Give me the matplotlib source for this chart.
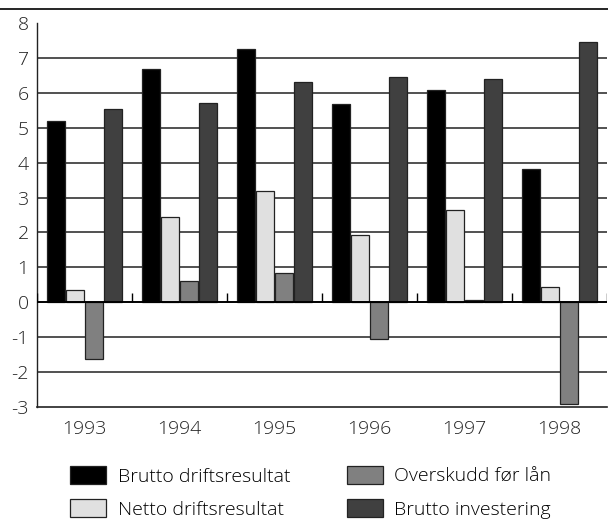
import numpy as np
import matplotlib
matplotlib.use("Agg")
import matplotlib.pyplot as plt
from matplotlib.lines import Line2D

plt.rcParams['font.family'] = ['Open Sans', 'DejaVu Sans']
plt.rcParams['font.weight'] = 'light'

# Data
years = ["1993", "1994", "1995", "1996", "1997", "1998"]
brutto_drift = [5.19, 6.69, 7.26, 5.68, 6.09, 3.81]
netto_drift = [0.36, 2.43, 3.18, 1.92, 2.65, 0.43]
overskudd = [-1.63, 0.61, 0.85, -1.06, 0.06, -2.92]
brutto_inv = [5.55, 5.70, 6.30, 6.44, 6.39, 7.46]

series = [
    ("Brutto driftsresultat", brutto_drift, "#000000"),
    ("Netto driftsresultat", netto_drift, "#e0e0e0"),
    ("Overskudd før lån", overskudd, "#808080"),
    ("Brutto investering", brutto_inv, "#404040"),
]
y_ticks = list(range(-3, 9))
grid_levels = [-2, -1, 1, 2, 3, 4, 5, 6, 7]

fig = plt.figure(figsize=(6.08, 5.21), dpi=100)
ax = fig.add_axes([37 / 608, 114 / 521, 570 / 608, 384 / 521])

x = np.arange(len(years))
width = 0.19
offsets = [-0.3, -0.1, 0.1, 0.3]

for lvl in grid_levels:
    ax.axhline(lvl, color="#222222", lw=1.1, zorder=0)
ax.axhline(0, color="black", lw=1.4, zorder=3)

handles = []
for (label, vals, color), off in zip(series, offsets):
    b = ax.bar(x + off, vals, width, color=color, edgecolor="#222222",
               linewidth=0.9, label=label, zorder=2)
    handles.append(b)

# small separators between year groups
ax.vlines(np.arange(len(years) + 1) - 0.5, 0, 0.27, color="black", lw=1.0, zorder=3)

ax.set_xlim(-0.5, len(years) - 0.5)
ax.set_ylim(-3, 8)
ax.set_yticks(y_ticks)
ax.set_yticklabels([str(t) for t in y_ticks])
ax.set_xticks(x)
ax.set_xticklabels(years)
ax.tick_params(axis="both", length=0, labelsize=14, colors="#222222")
ax.tick_params(axis="x", pad=9)
ax.tick_params(axis="y", pad=6)

for side in ["top", "right"]:
    ax.spines[side].set_visible(False)
ax.spines["left"].set_color("#222222")
ax.spines["bottom"].set_color("#222222")
ax.spines["left"].set_linewidth(1.0)
ax.spines["bottom"].set_linewidth(1.2)

# top rule across the figure
fig.add_artist(Line2D([0, 1], [1 - 8.5 / 521, 1 - 8.5 / 521],
                      transform=fig.transFigure, color="black", lw=1.2))

fig.legend(handles=handles, loc="upper left", bbox_to_anchor=(70 / 608, 1 - 466 / 521),
           ncol=2, frameon=False, fontsize=14, handlelength=1.85,
           handleheight=1.03, handletextpad=0.6, columnspacing=2.9,
           labelspacing=0.7, borderpad=0, borderaxespad=0)

fig.savefig("out.png", dpi=100)
